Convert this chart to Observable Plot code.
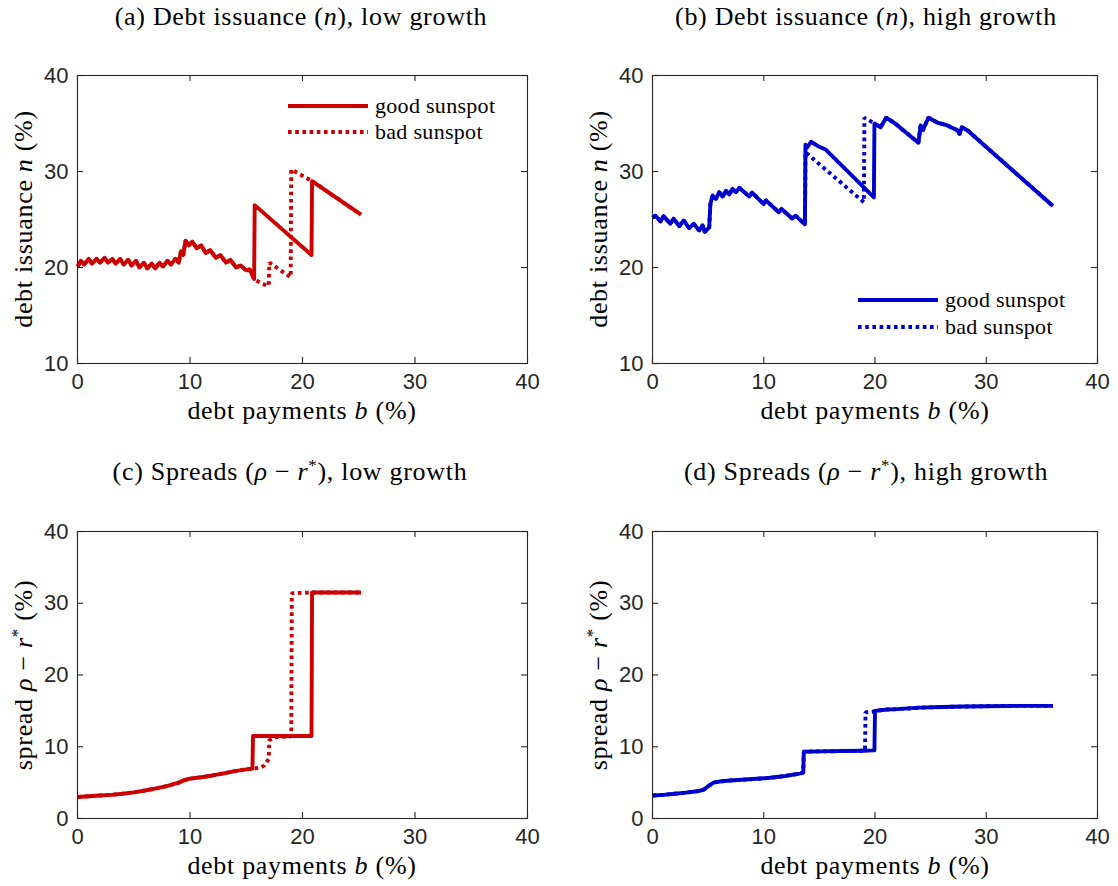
<!DOCTYPE html>
<html>
<head>
<meta charset="utf-8">
<script src="https://cdn.jsdelivr.net/npm/d3@7"></script>
<script src="https://cdn.jsdelivr.net/npm/@observablehq/plot@0.6"></script>
<style>
  html, body { margin: 0; padding: 0; background: #fff; }
  #wrap { position: relative; width: 1118px; height: 886px; overflow: hidden; background: #fff; }
  .ttl, .xl, .yl, .lg { position: absolute; font-family: "Liberation Serif", "Times New Roman", serif; color: #000; white-space: nowrap; line-height: 1; }
  .ttl { font-size: 26px; letter-spacing: 0.7px; transform: translate(-50%, -50%); }
  .xl { font-size: 26px; letter-spacing: 0.7px; transform: translate(-50%, -50%); }
  .yl { font-size: 26px; letter-spacing: 0.7px; transform: translate(-50%, -50%) rotate(-90deg); }
  .lg { font-size: 22px; letter-spacing: 0.3px; transform: translateY(-50%); }
  .panel { position: absolute; }
  sup { font-size: 0.65em; vertical-align: 0.55em; line-height: 0; }
</style>
</head>
<body>
<div id="wrap"></div>
<script>
// ---------------- data ----------------
const xTicks = [0, 10, 20, 30, 40];
const issuanceTicks = [10, 20, 30, 40];
const spreadTicks = [0, 10, 20, 30, 40];

// (a) debt issuance n, low growth : [b, n]
const lowIssuanceGood = [
  [0.0,20.1],[0.3,20.7],[0.6,20.3],[1.0,20.9],[1.3,20.4],[1.7,20.9],[2.0,20.5],[2.4,21.0],[2.7,20.5],
  [3.1,20.9],[3.4,20.4],[3.8,20.9],[4.1,20.3],[4.5,20.8],[4.8,20.2],[5.2,20.7],[5.5,20.0],[5.9,20.5],
  [6.2,19.9],[6.6,20.4],[6.9,19.9],[7.3,20.5],[7.6,20.1],[8.0,20.7],[8.3,20.3],[8.7,20.9],[9.0,20.5],
  [9.2,21.7],[9.4,21.3],[9.6,22.8],[9.9,22.3],[10.2,22.7],[10.6,22.0],[11.0,22.3],[11.4,21.5],[11.8,21.8],
  [12.3,21.0],[12.7,21.3],[13.2,20.5],[13.6,20.8],[14.1,20.0],[14.5,20.2],[15.0,19.7],[15.3,19.8],
  [15.7,18.8],[15.75,26.5],[20.8,21.3],[20.85,29.0],[25.2,25.5]
];
const lowIssuanceBad = [
  [0.0,20.1],[0.3,20.7],[0.6,20.3],[1.0,20.9],[1.3,20.4],[1.7,20.9],[2.0,20.5],[2.4,21.0],[2.7,20.5],
  [3.1,20.9],[3.4,20.4],[3.8,20.9],[4.1,20.3],[4.5,20.8],[4.8,20.2],[5.2,20.7],[5.5,20.0],[5.9,20.5],
  [6.2,19.9],[6.6,20.4],[6.9,19.9],[7.3,20.5],[7.6,20.1],[8.0,20.7],[8.3,20.3],[8.7,20.9],[9.0,20.5],
  [9.2,21.7],[9.4,21.3],[9.6,22.8],[9.9,22.3],[10.2,22.7],[10.6,22.0],[11.0,22.3],[11.4,21.5],[11.8,21.8],
  [12.3,21.0],[12.7,21.3],[13.2,20.5],[13.6,20.8],[14.1,20.0],[14.5,20.2],[15.0,19.7],[15.3,19.8],
  [15.7,18.8],[16.4,18.3],[17.0,18.1],[17.05,20.5],[18.95,19.0],[19.0,30.2],[20.85,29.0],[25.2,25.5]
];

// (b) debt issuance n, high growth : [b, n]
const highIssuanceGood = [
  [0.0,25.2],[0.27,25.4],[0.72,24.8],[1.0,25.35],[1.6,24.55],[1.9,25.1],[2.4,24.3],[2.8,24.9],[3.3,24.1],
  [3.7,24.55],[4.2,23.85],[4.5,24.4],[4.7,23.7],[5.1,24.2],[5.2,26.6],[5.4,27.5],[5.7,27.15],[6.0,27.85],
  [6.3,27.4],[6.6,28.0],[6.9,27.6],[7.2,28.2],[7.5,27.85],[7.8,28.3],[8.7,27.4],[8.95,27.8],[10.0,26.6],
  [10.2,27.0],[11.35,25.75],[11.6,26.1],[12.55,25.1],[12.85,25.4],[13.7,24.5],[13.75,32.8],[13.9,32.5],
  [14.25,33.1],[14.95,32.6],[15.55,32.3],[19.9,27.3],[19.95,35.0],[20.5,34.6],[21.0,35.6],[21.7,35.1],
  [23.9,33.0],[24.1,34.8],[24.3,34.3],[24.8,35.6],[25.6,35.1],[26.5,34.8],[27.4,34.3],[27.6,33.9],
  [27.8,34.6],[28.3,34.3],[36.0,26.4]
];
const highIssuanceBad = [
  [0.0,25.2],[0.27,25.4],[0.72,24.8],[1.0,25.35],[1.6,24.55],[1.9,25.1],[2.4,24.3],[2.8,24.9],[3.3,24.1],
  [3.7,24.55],[4.2,23.85],[4.5,24.4],[4.7,23.7],[5.1,24.2],[5.2,26.6],[5.4,27.5],[5.7,27.15],[6.0,27.85],
  [6.3,27.4],[6.6,28.0],[6.9,27.6],[7.2,28.2],[7.5,27.85],[7.8,28.3],[8.7,27.4],[8.95,27.8],[10.0,26.6],
  [10.2,27.0],[11.35,25.75],[11.6,26.1],[12.55,25.1],[12.85,25.4],[13.7,24.5],[13.75,32.0],[19.0,26.8],
  [19.05,35.6],[19.95,35.0],[20.5,34.6],[21.0,35.6],[21.7,35.1],
  [23.9,33.0],[24.1,34.8],[24.3,34.3],[24.8,35.6],[25.6,35.1],[26.5,34.8],[27.4,34.3],[27.6,33.9],
  [27.8,34.6],[28.3,34.3],[36.0,26.4]
];

// (c) spreads, low growth : [b, spread]
const lowSpreadGood = [
  [0,3.0],[1,3.1],[2,3.2],[3,3.3],[4,3.45],[5,3.65],[6,3.9],[7,4.2],[8,4.55],[9,5.0],[9.5,5.35],
  [10,5.55],[11,5.75],[12,6.0],[13,6.3],[14,6.6],[15,6.85],[15.55,6.95],[15.6,11.5],[20.8,11.5],
  [20.85,31.5],[25.2,31.5]
];
const lowSpreadBad = [
  [0,3.0],[1,3.1],[2,3.2],[3,3.3],[4,3.45],[5,3.65],[6,3.9],[7,4.2],[8,4.55],[9,5.0],[9.5,5.35],
  [10,5.55],[11,5.75],[12,6.0],[13,6.3],[14,6.6],[15,6.85],[15.55,6.95],[16.3,7.1],[16.6,7.4],[17.0,8.3],
  [17.05,10.9],[17.5,11.3],[19.0,11.45],[19.05,31.4],[20.85,31.5],[25.2,31.5]
];

// (d) spreads, high growth : [b, spread]
const highSpreadGood = [
  [0,3.2],[1,3.3],[2,3.45],[3,3.6],[4,3.8],[4.6,4.0],[5.0,4.5],[5.5,5.0],[6,5.15],[7,5.3],[8,5.4],
  [9,5.5],[10,5.6],[11,5.75],[12,5.95],[13,6.2],[13.55,6.4],[13.6,9.3],[15,9.35],[17,9.4],[19,9.45],
  [19.95,9.5],[20.0,15.0],[21.1,15.2],[22,15.25],[24,15.45],[26,15.55],[28,15.6],[30,15.65],[33,15.7],[36,15.7]
];
const highSpreadBad = [
  [0,3.2],[1,3.3],[2,3.45],[3,3.6],[4,3.8],[4.6,4.0],[5.0,4.5],[5.5,5.0],[6,5.15],[7,5.3],[8,5.4],
  [9,5.5],[10,5.6],[11,5.75],[12,5.95],[13,6.2],[13.55,6.4],[13.6,9.3],[15,9.35],[17,9.4],[19.1,9.45],
  [19.15,14.8],[19.95,14.9],[20.0,15.0],[21.1,15.2],[22,15.25],[24,15.45],[26,15.55],[28,15.6],[30,15.65],[33,15.7],[36,15.7]
];

const legendLabels = ["good sunspot", "bad sunspot"];
const red = "#cc0000", blue = "#0000cc";

// ---------------- drawing ----------------
const wrap = document.getElementById("wrap");
const axisColor = "#262626";
const tickFont = "'Liberation Sans', Arial, sans-serif";
const lw = 3.9;

function panel({left, top, pw, ph, yDomain, yTicks, good, bad, color}) {
  const mL = 77, mT = 25, mR = 20, mB = 40;
  const tl = 6;
  const chart = Plot.plot({
    width: mL + pw + mR, height: mT + ph + mB,
    marginLeft: mL, marginTop: mT, marginRight: mR, marginBottom: mB,
    x: {domain: [0, 40]},
    y: {domain: yDomain},
    style: {background: "transparent", overflow: "visible", fontFamily: tickFont, color: axisColor},
    marks: [
      Plot.line(bad, {x: d => d[0], y: d => d[1], stroke: color, strokeWidth: lw,
        strokeDasharray: "3.6,3.6", strokeLinecap: "butt", strokeLinejoin: "miter"}),
      Plot.line(good, {x: d => d[0], y: d => d[1], stroke: color, strokeWidth: lw,
        strokeLinecap: "butt", strokeLinejoin: "round"}),
      Plot.frame({stroke: axisColor, strokeWidth: 1.1}),
      Plot.tickX(xTicks, {x: d => d, insetTop: ph - tl, stroke: axisColor, strokeWidth: 1.1}),
      Plot.tickX(xTicks, {x: d => d, insetBottom: ph - tl, stroke: axisColor, strokeWidth: 1.1}),
      Plot.tickY(yTicks, {y: d => d, insetRight: pw - tl, stroke: axisColor, strokeWidth: 1.1}),
      Plot.tickY(yTicks, {y: d => d, insetLeft: pw - tl, stroke: axisColor, strokeWidth: 1.1}),
      Plot.axisX({ticks: xTicks, tickSize: 0, tickPadding: 10, fontSize: 22, label: null, fill: axisColor, tickFormat: d => String(d)}),
      Plot.axisY({ticks: yTicks, tickSize: 0, tickPadding: 9, fontSize: 22, label: null, fill: axisColor, tickFormat: d => String(d)})
    ]
  });
  const div = document.createElement("div");
  div.className = "panel";
  div.style.left = (left - mL) + "px";
  div.style.top = (top - mT) + "px";
  div.appendChild(chart);
  wrap.appendChild(div);
}

function addText(cls, html, x, y) {
  const d = document.createElement("div");
  d.className = cls;
  d.innerHTML = html;
  d.style.left = x + "px";
  d.style.top = y + "px";
  wrap.appendChild(d);
}

function legend(x, y1, y2, color) {
  const ns = "http://www.w3.org/2000/svg";
  const svg = document.createElementNS(ns, "svg");
  svg.setAttribute("width", 90); svg.setAttribute("height", 50);
  svg.style.position = "absolute";
  svg.style.left = x + "px"; svg.style.top = (y1 - 10) + "px";
  [[y1, null], [y2, "3.6,3.6"]].forEach(([yy, dash]) => {
    const l = document.createElementNS(ns, "line");
    l.setAttribute("x1", 0); l.setAttribute("x2", 80);
    l.setAttribute("y1", yy - y1 + 10); l.setAttribute("y2", yy - y1 + 10);
    l.setAttribute("stroke", color); l.setAttribute("stroke-width", lw);
    if (dash) l.setAttribute("stroke-dasharray", dash);
    svg.appendChild(l);
  });
  wrap.appendChild(svg);
  addText("lg", legendLabels[0], x + 87, y1);
  addText("lg", legendLabels[1], x + 87, y2);
}

panel({left: 77, top: 75, pw: 450, ph: 288, yDomain: [10, 40], yTicks: issuanceTicks, good: lowIssuanceGood, bad: lowIssuanceBad, color: red});
panel({left: 652, top: 75, pw: 445, ph: 288, yDomain: [10, 40], yTicks: issuanceTicks, good: highIssuanceGood, bad: highIssuanceBad, color: blue});
panel({left: 77, top: 531, pw: 450, ph: 287, yDomain: [0, 40], yTicks: spreadTicks, good: lowSpreadGood, bad: lowSpreadBad, color: red});
panel({left: 652, top: 531, pw: 445, ph: 287, yDomain: [0, 40], yTicks: spreadTicks, good: highSpreadGood, bad: highSpreadBad, color: blue});

addText("ttl", "(a) Debt issuance (<i>n</i>), low growth", 301, 17);
addText("ttl", "(b) Debt issuance (<i>n</i>), high growth", 866, 17);
addText("ttl", "(c) Spreads (<i>ρ</i> − <i>r</i><sup>*</sup>), low growth", 290, 472);
addText("ttl", "(d) Spreads (<i>ρ</i> − <i>r</i><sup>*</sup>), high growth", 866, 472);

addText("xl", "debt payments <i>b</i> (%)", 302, 411);
addText("xl", "debt payments <i>b</i> (%)", 875, 411);
addText("xl", "debt payments <i>b</i> (%)", 302, 866);
addText("xl", "debt payments <i>b</i> (%)", 875, 866);

addText("yl", "debt issuance <i>n</i> (%)", 24, 219);
addText("yl", "debt issuance <i>n</i> (%)", 599, 219);
addText("yl", "spread <i>ρ</i> − <i>r</i><sup>*</sup> (%)", 24, 675);
addText("yl", "spread <i>ρ</i> − <i>r</i><sup>*</sup> (%)", 599, 675);

legend(288, 106, 132, red);
legend(858, 300, 327, blue);
</script>
</body>
</html>
